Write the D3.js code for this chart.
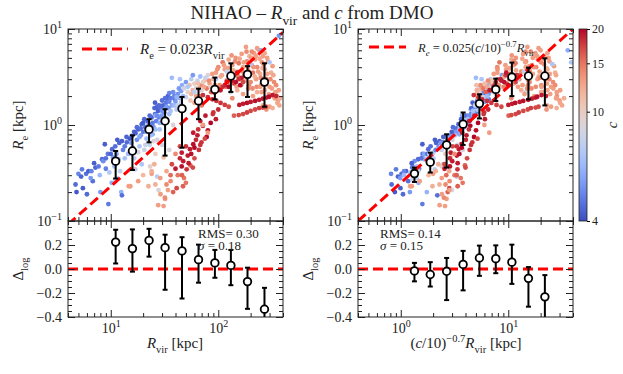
<!DOCTYPE html>
<html>
<head>
<meta charset="utf-8">
<script src="https://cdn.jsdelivr.net/npm/d3@7"></script>
<style>
body { margin: 0; background: #fff; }
text { font-family: "Liberation Serif", "DejaVu Serif", serif; fill: #222; }
</style>
</head>
<body>
<svg id="chart" width="623" height="374"></svg>
<script>
// galaxies: [Rvir (kpc), Re (kpc), concentration c]
var galaxies = [
  // low mass dwarfs, mostly low c
  [4.7,0.24,4.5],[4.8,0.2,4.2],[5.0,0.31,5.0],[5.3,0.29,4.4],[5.4,0.345,4.8],[5.5,0.22,4.3],[5.9,0.31,4.6],
  [6.0,0.19,4.5],[6.2,0.33,4.3],[6.6,0.33,5.0],[6.8,0.26,4.6],[7.2,0.36,4.4],[7.7,0.37,4.8],[7.9,0.30,6.5],
  [8.0,0.20,5.5],[8.3,0.44,4.5],[8.5,0.42,5.2],[8.8,0.63,4.3],[9.0,0.35,4.9],[9.4,0.50,4.7],[9.5,0.15,4.8],
  [9.7,0.32,7.2],[10.2,0.25,6.0],[10.3,0.56,4.5],[10.5,0.46,5.5],[10.8,0.37,6.8],[11.0,0.60,4.6],[11.0,0.27,8.0],
  [11.3,0.50,5.8],[11.5,0.28,7.5],[11.8,0.44,6.2],[12.0,0.65,4.4],[12.2,0.33,7.8],[12.5,0.20,6.2],[12.7,0.185,4.6],
  [15.2,0.23,13],[16.9,0.345,7.5],[19.4,0.39,7.0],[23.2,0.37,9.5],[24.0,0.31,13],[22.4,0.23,12],
  [11.5,0.70,4.3],[10.0,0.50,4.4],[9.0,0.45,4.6],[7.0,0.40,4.3],[6.5,0.28,5.5],[13.5,0.45,6.8],[15.0,0.50,7.5],
  [18.0,0.52,8.5],[21.0,0.62,8.2],[25.0,0.68,9.2],
  // blue band above the relation
  [12.7,0.68,4.3],[13.5,0.60,4.8],[14.1,0.66,4.5],[14.5,0.50,6.5],[15.0,0.72,4.2],[15.7,0.77,4.6],[16.0,0.58,6.0],
  [16.5,0.45,7.5],[17.0,0.82,4.4],[17.5,0.70,5.2],[18.0,0.90,4.3],[18.5,0.60,7.0],[19.0,0.78,5.5],[19.4,1.02,4.4],
  [20.0,0.85,4.8],[20.5,0.55,8.0],[21.0,0.95,4.5],[21.5,0.72,6.5],[22.0,1.10,4.3],[22.5,0.88,5.0],[23.0,0.62,7.8],
  [23.5,1.00,4.6],[24.0,1.20,4.4],[24.5,0.80,6.0],[25.0,0.95,5.3],[25.8,1.30,4.5],[25.8,1.71,4.3],[26.5,1.10,4.9],
  [27.0,0.70,8.5],[27.5,1.40,4.3],[28.0,1.20,5.0],[28.5,0.90,6.8],[29.0,1.50,4.6],[29.6,1.25,5.5],[29.6,1.58,4.6],
  [30.5,1.05,7.0],[31.0,1.60,4.4],[31.5,1.35,5.0],[32.5,1.70,4.7],[33.0,1.15,7.5],[34.0,1.85,4.5],[34.0,2.00,4.4],
  [34.5,1.50,5.2],[35.0,1.30,6.5],[36.0,1.90,4.8],[37.0,1.60,5.8],[38.0,1.00,9.0],[39.0,2.00,5.0],[39.4,1.85,4.8],
  [40.0,1.75,5.5],[41.0,1.45,7.2],[42.0,2.10,5.3],[44.0,1.90,6.0],[45.0,2.25,5.6],[37.0,3.10,6.5],[44.0,3.00,7.0],
  [20.0,1.05,4.2],[23.0,1.25,4.5],[27.0,1.55,4.4],[30.0,1.80,4.6],[35.0,2.15,5.0],[26.0,1.25,6.0],[32.0,1.45,6.2],
  [13.0,0.55,5.0],[14.0,0.75,4.4],[15.5,0.65,5.5],[16.5,0.85,4.3],[17.5,0.95,4.5],[18.5,0.75,5.8],[19.0,0.92,4.6],
  [20.5,1.15,4.4],[21.5,0.85,5.5],[22.5,1.00,5.0],[23.5,0.78,6.5],[24.5,1.05,4.8],[25.5,1.50,4.4],[26.0,0.90,6.5],
  [27.0,1.25,5.2],[28.0,1.60,4.5],[28.5,1.05,6.0],[30.0,1.40,5.3],[31.0,1.15,6.5],[32.0,1.90,4.6],[33.0,1.55,5.5],
  [35.0,1.75,5.0],[36.0,1.40,6.8],[38.0,2.20,5.2],[39.0,1.60,6.5],[41.0,1.95,6.2],[43.0,2.40,5.5],[45.0,1.70,7.5],
  // intermediate masses, mixed c
  [46,2.6,6.0],[48,2.4,8.5],[50,2.8,5.5],[52,2.2,9.5],[54,2.6,11],[56,3.0,7.5],[58,2.3,12],[60,2.7,10],
  [62,2.0,13],[64,2.9,8.0],[66,2.4,12.5],[68,3.2,6.5],[70,2.6,14],[75,2.9,11],[78,2.4,15],[80,3.3,9],
  [83,2.7,13],[86,2.2,16],[90,3.0,12],[93,2.6,14],[50,1.95,8],[55,1.8,10.5],[60,1.7,12],[65,1.9,13.5],
  [70,1.6,15],[47,2.0,6.5],[42,1.6,8.0],[58,3.3,5.5],[52,2.5,7.0],[62,2.4,9.0],[72,2.8,10],[56,2.1,11.5],
  [60,2.2,7.5],[65,2.7,11],[70,2.3,9],[74,2.5,12.5],[82,2.9,14],[85,2.5,10],[88,3.4,13],[92,2.3,15],
  [76,3.1,8],[68,2.0,14],
  // massive galaxies, high c
  [95,3.5,13],[100,4.0,14],[105,3.2,12],[110,4.5,15],[115,3.8,13],[120,2.9,16],[125,4.8,12.5],[130,3.4,14],
  [135,4.2,13],[140,2.7,17],[145,5.0,13.5],[150,3.6,12],[155,4.4,15],[160,3.0,14],[165,5.5,13],[170,4.0,12.5],
  [175,3.3,16],[181,6.5,13],[185,4.6,14],[190,3.7,13],[195,5.2,12],[200,2.8,14],[205,4.2,13.5],[210,3.5,15],
  [215,5.6,13],[220,4.8,12.5],[225,3.0,13],[230,4.0,14],[240,6.0,13],[245,3.4,12],[250,2.6,13.5],[255,4.5,14],
  [260,5.2,13],[270,3.8,12.5],[280,3.0,14],[290,4.6,13],[300,2.5,13],[310,3.5,12],[320,4.1,13],[330,2.8,14],
  [340,2.2,13],[350,2.0,13.5],[360,1.8,13],[370,1.6,12.5],[300,1.55,13],[320,1.5,12],[280,1.45,13.5],[260,1.6,12],
  [98,3.8,13.5],[103,2.6,14],[108,3.3,12.5],[113,4.2,13],[118,2.5,14.5],[123,3.9,13],[128,2.7,12],[133,5.3,13.5],
  [138,3.7,12.5],[143,4.6,14],[148,2.5,13],[153,3.2,14.5],[158,4.9,12.5],[163,2.6,13],[168,3.6,14],[173,4.5,13],
  [178,2.9,12.5],[183,5.8,14],[188,4.1,13],[193,2.6,14],[198,3.4,12.5],[203,5.0,13],[208,2.4,14],[213,4.0,13.5],
  [218,3.2,12],[223,5.2,13],[228,2.5,14],[235,3.6,13],[243,4.9,12.5],[248,3.1,14],[253,2.2,13],[258,3.9,12],
  [265,4.3,13.5],[275,2.7,13],[285,3.4,12.5],[295,2.1,13],[305,3.0,14],[315,2.4,13],[325,3.3,12.5],[335,1.9,13],
  [345,2.6,14],[355,1.7,12.5],[365,2.3,13],[375,1.9,12],[285,5.0,13],[270,5.6,12.5],[230,6.3,13],[205,5.8,14],
  [110,2.5,18],[120,2.8,19],[130,3.0,18.5],[140,3.3,17.5],[150,3.5,19],[146,2.8,19.5],[165,3.1,19],[181,3.3,18],
  [105,2.3,19],[115,2.6,18.5],[125,2.5,20],[135,2.9,19],[155,3.0,18],[160,2.6,19.5],[170,2.8,17],
  [120,3.6,8],[95,3.0,7],[130,2.2,8.5],[200,4.3,7],[250,6.0,6],[300,4.5,7],[366,8.5,5.5],
  [230,2.2,12],[210,2.0,13],[190,2.4,14],[170,2.1,13],[150,2.3,12],[135,1.9,14],[245,2.5,13],[270,2.3,12.5],
  // tracks of strongly concentrated haloes
  [157,1.62,19],[170,1.66,19],[185,1.70,19.5],[200,1.74,19],[220,1.78,19.5],[240,1.83,19],[260,1.88,19],
  [280,1.93,19],[297,1.97,19.5],[320,2.05,19],[345,2.00,18.5],
  [140,1.25,16],[155,1.27,17],[170,1.30,17],[185,1.35,17.5],[200,1.40,17],[220,1.45,17],[240,1.50,17.5],
  [260,1.52,17],[277,1.55,17],
  [72,2.05,18],[80,1.95,18],[88,1.85,18.5],[96,1.78,18],[105,1.70,18],[115,1.62,17.5],[125,1.55,17],
  [68,1.10,19],[72,0.98,20],[76,1.25,19],[80,0.88,19.5],[85,1.05,20],[90,1.35,18],[95,1.15,19],[100,1.45,18.5],
  [78,0.75,20],[89,1.30,18],
  // compact high-c systems below the relation
  [45.7,0.515,19],[54.5,0.56,19],[69.8,0.66,18],[58.5,0.63,19.5],[47.2,0.42,19],[50.8,0.345,18],[45.7,0.37,19.5],
  [37,0.39,17],[47,0.23,16],[41,0.22,17],[38,0.20,16],[32,0.17,13],[31,0.143,13],[27.8,0.21,9],[27,0.29,7.5],
  [28.9,0.28,13],[25.4,0.39,12],[31,0.46,11],[58.5,0.83,19],[80,0.83,13],[72,1.0,13],[52,0.48,19],[62,0.70,18.5],
  [66,0.55,18],[42,0.30,15],[36,0.26,14],[33,0.33,12.5],[40,0.50,14],[44,0.60,17],[35,0.55,9],[30,0.62,8.5],
  [26,0.50,10],[14.7,0.23,13],[27.6,0.146,13],[31.9,0.175,14],[34,0.21,13],[24,0.33,12],[20,0.30,11.5],
  [18,0.26,13],[16,0.35,12],[60,0.45,17],[55,0.38,16],[48,0.28,15],[65,0.90,18],[75,0.72,17],
  [50,0.60,18],[56,0.50,19.5],[60,0.58,20],[64,0.78,19],[68,0.62,18],[53,0.40,19],[58,0.36,17],[44,0.45,18.5],
  [40,0.35,19],[46,0.30,16],[50,0.25,15],[36,0.30,15.5],[33,0.24,14],[29,0.19,13],[26,0.24,12]
];

// binned medians, left panel
var binRvir = [11.1, 15.9, 22.7, 32, 46, 65.5, 93, 131, 187, 269];
var binRe = [0.42, 0.536, 0.90, 1.10, 1.48, 1.78, 2.35, 3.24, 3.37, 2.8];
var binReLo = [0.277, 0.34, 0.66, 0.48, 0.58, 1.15, 1.85, 2.21, 1.96, 1.55];
var binReHi = [0.536, 0.78, 1.15, 1.46, 1.96, 2.39, 3.12, 4.39, 4.1, 4.39];
var resL = [0.224, 0.170, 0.238, 0.178, 0.151, 0.078, 0.051, 0.030, -0.105, -0.335];
var resLLo = [0.046, -0.022, 0.103, -0.173, -0.246, -0.114, -0.073, -0.135, -0.332, -0.42];
var resLHi = [0.327, 0.33, 0.335, 0.286, 0.265, 0.203, 0.159, 0.159, 0.011, -0.157];

// binned medians, right panel
var binX = [1.34, 1.88, 2.67, 3.8, 5.39, 7.65, 10.8, 15.4, 21.9];
var binReC = [0.312, 0.41, 0.62, 1.02, 1.67, 2.35, 3.16, 3.24, 3.24];
var binReCLo = [0.255, 0.32, 0.36, 0.62, 1.17, 1.78, 2.0, 1.85, 1.6];
var binReCHi = [0.36, 0.515, 0.80, 1.35, 2.09, 3.04, 4.47, 3.96, 4.95];
var resR = [-0.016, -0.046, -0.019, 0.038, 0.092, 0.086, 0.057, -0.078, -0.232];
var resRLo = [-0.103, -0.146, -0.259, -0.178, -0.057, -0.035, -0.124, -0.314, -0.41];
var resRHi = [0.051, 0.057, 0.092, 0.151, 0.195, 0.197, 0.203, 0.016, -0.051];

var statsL = ["0.30", "0.18"], statsR = ["0.14", "0.15"];
var cTicks = [4, 10, 15, 20];
var rightNorm = 0.1; // plotted x of right panel, in units used by the figure

var coolwarm = d3.interpolateRgbBasis(["#3b4cc0", "#6788ee", "#9abbff", "#c9d7f0",
  "#edd1c2", "#f7a889", "#e26952", "#b40426"]);
var cNorm = d3.scaleLog().domain([4, 20]).range([0, 1]).clamp(true);
function cColor(c) { return coolwarm(cNorm(c)); }

var svg = d3.select("#chart");
var top0 = 29, mid = 221, bot = 317;

function rich(t, parts, size) {
  var shift = 0;
  parts.forEach(function(p) {
    var kind = p[1] || "", target = 0;
    if (kind.indexOf("sub") >= 0) target = size * 0.3;
    if (kind.indexOf("sup") >= 0) target = -size * 0.42;
    var s = t.append("tspan").text(p[0]).attr("dy", target - shift);
    shift = target;
    if (kind.indexOf("i") === 0) s.attr("font-style", "italic");
    if (target !== 0) s.attr("font-size", size * 0.7);
  });
  return t;
}

function logMinor(dom) {
  var out = [];
  for (var e = Math.floor(Math.log10(dom[0])); e <= Math.ceil(Math.log10(dom[1])); e++)
    for (var m = 2; m <= 9; m++) {
      var v = m * Math.pow(10, e);
      if (v >= dom[0] * 0.999 && v <= dom[1] * 1.001) out.push(v);
    }
  return out;
}

function powLabels(sel) {
  sel.selectAll(".tick text").each(function(d) {
    var t = d3.select(this), e = Math.round(Math.log10(d));
    t.text(null);
    t.append("tspan").text("10");
    t.append("tspan").attr("dy", -6).attr("font-size", 10).text(String(e).replace("-", "\u2212"));
  });
}

// frame with inward ticks on all four sides
function frame(g, x, y, xMajor, xMinor, yMajor, yMinor, xLab, yLab) {
  var x0 = x.range()[0], x1 = x.range()[1], y0 = y.range()[1], y1 = y.range()[0];
  function put(axis, tx, ty, vals, size, fmt) {
    var a = g.append("g").attr("transform", "translate(" + tx + "," + ty + ")")
      .call(axis.tickValues(vals).tickSize(-size).tickSizeOuter(0).tickPadding(6)
        .tickFormat(fmt || function() { return ""; }));
    a.select(".domain").remove();
    a.selectAll(".tick line").attr("stroke", "#222");
    a.selectAll(".tick text").attr("font-size", 14).attr("fill", "#222")
      .attr("font-family", "'Liberation Serif', serif");
    return a;
  }
  var xb = put(d3.axisBottom(x), 0, y1, xMajor, 7, xLab ? function(d) { return d; } : null);
  put(d3.axisBottom(x), 0, y1, xMinor, 4);
  put(d3.axisTop(x), 0, y0, xMajor, 7);
  put(d3.axisTop(x), 0, y0, xMinor, 4);
  var yl = put(d3.axisLeft(y), x0, 0, yMajor, 7, yLab);
  put(d3.axisLeft(y), x0, 0, yMinor, 4);
  put(d3.axisRight(y), x1, 0, yMajor, 7);
  put(d3.axisRight(y), x1, 0, yMinor, 4);
  if (xLab) powLabels(xb);
  g.append("rect").attr("x", x0).attr("y", y0).attr("width", x1 - x0).attr("height", y1 - y0)
    .attr("fill", "none").attr("stroke", "#222").attr("stroke-width", 1);
  return yl;
}

function errorbars(g, xs, ys, los, his, x, y) {
  var eb = g.append("g");
  xs.forEach(function(xv, i) {
    var px = x(xv);
    eb.append("line").attr("x1", px).attr("x2", px).attr("y1", y(his[i])).attr("y2", y(los[i]))
      .attr("stroke", "#000").attr("stroke-width", 2);
    [los[i], his[i]].forEach(function(v) {
      eb.append("line").attr("x1", px - 2.5).attr("x2", px + 2.5).attr("y1", y(v)).attr("y2", y(v))
        .attr("stroke", "#000").attr("stroke-width", 2);
    });
  });
  eb.selectAll("circle").data(xs).join("circle")
    .attr("cx", function(d) { return x(d); })
    .attr("cy", function(d, i) { return y(ys[i]); })
    .attr("r", 3.8).attr("fill", "#fff").attr("stroke", "#000").attr("stroke-width", 1.8);
}

function panel(o) {
  var x = d3.scaleLog().domain(o.xdom).range([o.left, o.right]);
  var y = d3.scaleLog().domain([0.1, 10]).range([mid, top0]);
  var yr = d3.scaleLinear().domain([-0.4, 0.4]).range([bot, mid]);
  var g = svg.append("g");

  var cid = "clip" + o.id, rid = "rclip" + o.id;
  g.append("clipPath").attr("id", cid).append("rect")
    .attr("x", o.left).attr("y", top0).attr("width", o.right - o.left).attr("height", mid - top0);
  g.append("clipPath").attr("id", rid).append("rect")
    .attr("x", o.left).attr("y", mid).attr("width", o.right - o.left).attr("height", bot - mid);

  var plot = g.append("g").attr("clip-path", "url(#" + cid + ")");
  plot.selectAll("circle").data(galaxies).join("circle")
    .attr("cx", function(d) { return x(o.xOf(d)); })
    .attr("cy", function(d) { return y(d[1]); })
    .attr("r", 2.4).attr("fill", function(d) { return cColor(d[2]); })
    .attr("fill-opacity", 1);

  plot.append("line")
    .attr("x1", x(o.xdom[0])).attr("y1", y(o.slope * o.xdom[0]))
    .attr("x2", x(o.xdom[1])).attr("y2", y(o.slope * o.xdom[1]))
    .attr("stroke", "#ff0000").attr("stroke-width", 3).attr("stroke-dasharray", "10,5");

  errorbars(g.append("g").attr("clip-path", "url(#" + cid + ")"), o.bx, o.by, o.blo, o.bhi, x, y);

  var fmtPow = function(d) { return d; };
  var yl = frame(g, x, y, o.xMajor, logMinor(o.xdom), [0.1, 1, 10], logMinor([0.1, 10]), false, fmtPow);
  powLabels(yl);

  // legend
  g.append("line").attr("x1", o.legX).attr("x2", o.legX + o.legW).attr("y1", o.legY).attr("y2", o.legY)
    .attr("stroke", "#ff0000").attr("stroke-width", 3).attr("stroke-dasharray", "10,5");
  rich(g.append("text").attr("x", o.legX + o.legW + 12).attr("y", o.legY + 5)
    .attr("font-size", o.legSize), o.legText, o.legSize);

  // residuals
  var res = g.append("g").attr("clip-path", "url(#" + rid + ")");
  res.append("line").attr("x1", o.left).attr("x2", o.right).attr("y1", yr(0)).attr("y2", yr(0))
    .attr("stroke", "#ff0000").attr("stroke-width", 3).attr("stroke-dasharray", "10,5");
  errorbars(res, o.bx, o.rv, o.rlo, o.rhi, x, yr);

  var rMajor = [-0.4, -0.2, 0, 0.2, 0.4], rMinor = d3.range(-0.35, 0.4, 0.05);
  frame(g, x, yr, o.xMajor, logMinor(o.xdom), rMajor, rMinor, true,
    function(d) { return d > 0.3 ? "" : d3.format(".1f")(d); });

  g.append("text").attr("x", o.statX).attr("y", 238).attr("font-size", 13).attr("fill", "#444")
    .text("RMS= " + o.stats[0]);
  rich(g.append("text").attr("x", o.statX).attr("y", 250).attr("font-size", 13).attr("fill", "#444"),
    [["\u03c3", "i"], [" = " + o.stats[1]]], 13);

  // axis titles
  rich(g.append("text").attr("transform", "translate(" + (o.left - 45) + ",125) rotate(-90)")
    .attr("text-anchor", "middle").attr("font-size", 15), [["R", "i"], ["e", "sub"], [" [kpc]"]], 15);
  rich(g.append("text").attr("transform", "translate(" + (o.left - 45) + ",269) rotate(-90)")
    .attr("text-anchor", "middle").attr("font-size", 15), [["\u0394"], ["log", "sub"]], 15);
  rich(g.append("text").attr("x", o.xlabX).attr("y", 348).attr("text-anchor", "middle")
    .attr("font-size", 15), o.xlab, 15);
}

panel({
  id: "L", left: 68, right: 283, xdom: [4, 400], xMajor: [10, 100],
  xOf: function(d) { return d[0]; }, slope: 0.023,
  bx: binRvir, by: binRe, blo: binReLo, bhi: binReHi, rv: resL, rlo: resLLo, rhi: resLHi,
  legX: 82, legY: 49, legW: 46, legSize: 15,
  legText: [["R", "i"], ["e", "sub"], [" = 0.023"], ["R", "i"], ["vir", "sub"]],
  stats: statsL, statX: 198, xlabX: 175,
  xlab: [["R", "i"], ["vir", "sub"], [" [kpc]"]]
});

panel({
  id: "R", left: 358, right: 573, xdom: [0.4, 40], xMajor: [1, 10],
  xOf: function(d) { return rightNorm * Math.pow(d[2] / 10, -0.7) * d[0]; }, slope: 0.025 / rightNorm,
  bx: binX, by: binReC, blo: binReCLo, bhi: binReCHi, rv: resR, rlo: resRLo, rhi: resRHi,
  legX: 369, legY: 47, legW: 37, legSize: 12.5,
  legText: [["R", "i"], ["e", "isub"], [" = 0.025("], ["c", "i"], ["/10)"], ["\u22120.7", "sup"],
    ["R", "i"], ["vir", "sub"]],
  stats: statsR, statX: 380, xlabX: 466,
  xlab: [["("], ["c", "i"], ["/10)"], ["\u22120.7", "sup"], ["R", "i"], ["vir", "sub"], [" [kpc]"]]
});

// colorbar
var cb = svg.append("g");
var grad = cb.append("defs").append("linearGradient").attr("id", "cbar")
  .attr("x1", 0).attr("y1", 1).attr("x2", 0).attr("y2", 0);
d3.range(0, 1.0001, 0.05).forEach(function(t) {
  grad.append("stop").attr("offset", t).attr("stop-color", coolwarm(t));
});
var cy = d3.scaleLog().domain([4, 20]).range([mid, top0]);
cb.append("rect").attr("x", 579).attr("y", top0).attr("width", 8).attr("height", mid - top0)
  .attr("fill", "url(#cbar)").attr("stroke", "#222").attr("stroke-width", 0.8);
var cax = cb.append("g").attr("transform", "translate(587,0)")
  .call(d3.axisRight(cy).tickValues(cTicks).tickSize(3).tickPadding(2).tickFormat(d3.format("d")));
cax.select(".domain").remove();
cax.selectAll(".tick text").attr("font-size", 12).attr("fill", "#333")
  .attr("font-family", "'Liberation Serif', serif");
cb.append("text").attr("transform", "translate(617,125) rotate(-90)").attr("text-anchor", "middle")
  .attr("font-size", 15).attr("font-style", "italic").text("c");

// title
rich(svg.append("text").attr("x", 312).attr("y", 19).attr("text-anchor", "middle").attr("font-size", 19),
  [["NIHAO \u2013 "], ["R", "i"], ["vir", "sub"], [" and "], ["c", "i"], [" from DMO"]], 19);
</script>
</body>
</html>
